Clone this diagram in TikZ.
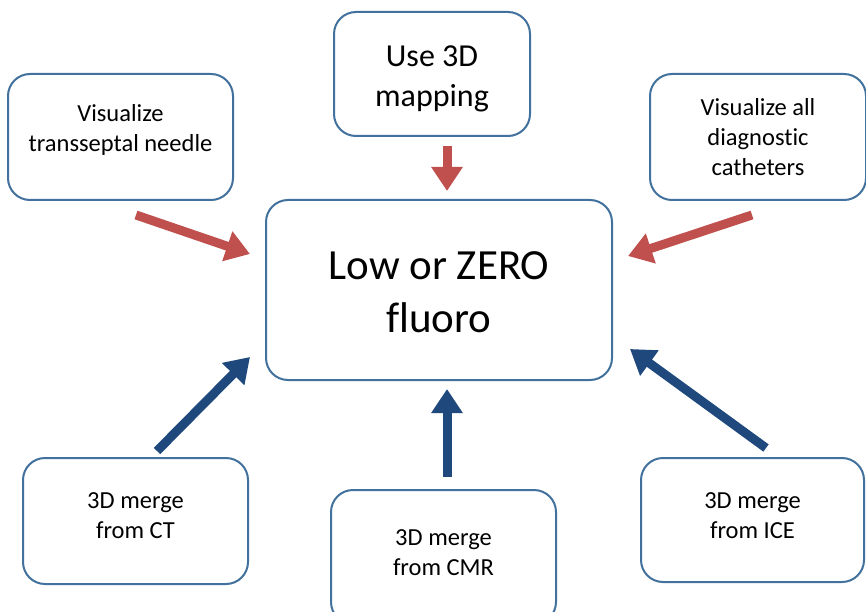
\documentclass[tikz,border=0pt]{standalone}
\usepackage{fontspec}
\setmainfont[Ligatures={NoCommon}]{Carlito}
\usetikzlibrary{arrows.meta}
\definecolor{boxline}{HTML}{41719C}
\definecolor{redarrow}{HTML}{C0504D}
\definecolor{bluearrow}{HTML}{1F497D}
\tikzset{
  box/.style={draw=boxline, line width=2pt, rounded corners=22pt, rectangle, align=center, fill=white, inner sep=0pt},
  smalltext/.style={font=\fontsize{24.5}{30}\selectfont, align=center},
  redarr/.style={draw=redarrow, line width=9pt, -{Triangle[width=30pt,length=24pt]}},
  bluearr/.style={draw=bluearrow, line width=9pt, -{Triangle[width=30pt,length=24pt]}},
}
\begin{document}
\begin{tikzpicture}[x=1pt,y=-1pt]
\useasboundingbox (0,0) rectangle (866,612);
\node[box, minimum width=346pt, minimum height=180pt] (center) at (439,290) {};
\node[font=\fontsize{43}{53}\selectfont, align=center] (centertext) at (439,292) {Low or ZERO\\fluoro};
\node[box, minimum width=196pt, minimum height=124pt] (top) at (432,74) {};
\node[font=\fontsize{32}{40}\selectfont, align=center] (toptext) at (432,79) {Use 3D\\mapping};
\node[box, minimum width=225pt, minimum height=126pt] (lt) at (120.5,137) {};
\node[smalltext] (lttext) at (120.5,130) {Visualize\\transseptal needle};
\node[box, smalltext, minimum width=216pt, minimum height=126pt] (rt) at (758,137) {Visualize all\\diagnostic\\catheters};
\node[box, minimum width=225pt, minimum height=126pt] (bl) at (135.5,521) {};
\node[smalltext] (bltext) at (135.5,516) {3D merge\\from CT};
\node[box, minimum width=225pt, minimum height=134pt] (bm) at (443.5,557) {};
\node[smalltext] (bmtext) at (443.5,553) {3D merge\\from CMR};
\node[box, minimum width=223pt, minimum height=124pt] (br) at (752.5,520) {};
\node[smalltext] (brtext) at (752.5,516) {3D merge\\from ICE};

\coordinate (a1s) at (136,215); \coordinate (a1e) at (250,254);
\coordinate (a2s) at (447,146); \coordinate (a2e) at (447,191);
\coordinate (a3s) at (752,215); \coordinate (a3e) at (628,256);
\coordinate (b1s) at (157,451); \coordinate (b1e) at (250,357);
\coordinate (b2s) at (447,477); \coordinate (b2e) at (447,389);
\coordinate (b3s) at (766,448); \coordinate (b3e) at (630,349);

\draw[redarr] (a1s) -- (a1e);
\draw[redarr] (a2s) -- (a2e);
\draw[redarr] (a3s) -- (a3e);
\draw[bluearr] (b1s) -- (b1e);
\draw[bluearr] (b2s) -- (b2e);
\draw[bluearr] (b3s) -- (b3e);
\end{tikzpicture}
\end{document}
